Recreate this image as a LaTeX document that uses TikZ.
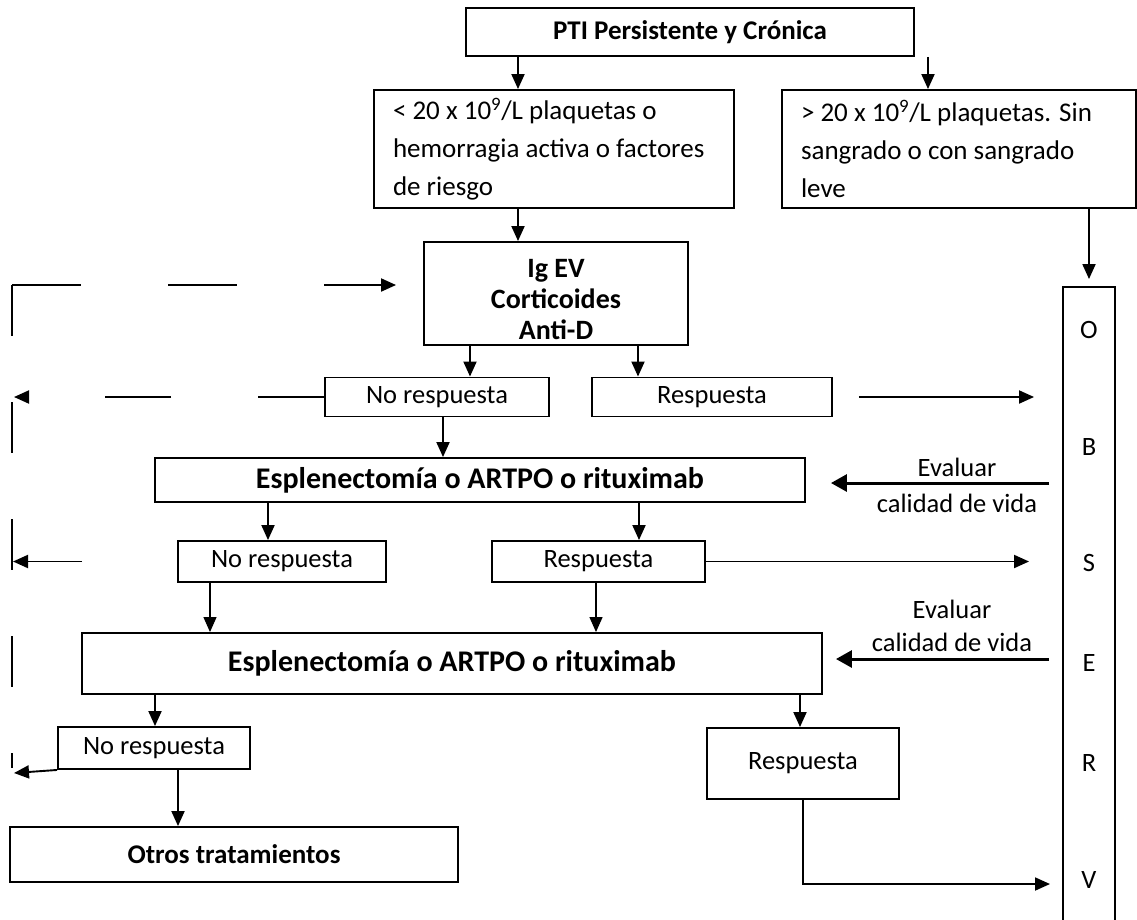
\documentclass[tikz,border=0pt]{standalone}
\usepackage{fontspec}
\setmainfont{Carlito}
\usetikzlibrary{arrows.meta,calc}

\begin{document}
\begin{tikzpicture}[x=1pt,y=-1pt,
  box/.style={draw, line width=1.9pt, inner sep=0pt, align=center,
              font=\fontsize{26.5}{32}\selectfont},
  boldbox/.style={box, font=\fontsize{27}{32}\selectfont\bfseries},
  igbox/.style={box, font=\fontsize{28}{31}\selectfont\bfseries},
  bigbox/.style={box, font=\fontsize{30}{36}\selectfont\bfseries},
  leftbox/.style={box, align=flush left, inner xsep=19pt, text width=#1,
                  font=\fontsize{27}{38}\selectfont},
  lbl/.style={font=\fontsize{26.5}{32}\selectfont, inner sep=0pt},
  arr/.style={line width=1.9pt, -{Triangle[length=15pt,width=13pt]}},
  thinarr/.style={line width=1.2pt, -{Triangle[length=15pt,width=13pt]}},
  evalarr/.style={line width=3pt, -{Triangle[length=16pt,width=17pt]}}
]
\useasboundingbox (0,0) rectangle (1137,919);

% boxes
\node[boldbox, minimum width=448, minimum height=48] (pti) at (690,32) {PTI Persistente y Crónica};
\node[leftbox=322pt, minimum width=360, minimum height=118] (lft) at (554,149)
  {< 20 x 10\textsuperscript{9}/L plaquetas o\\hemorragia activa o factores\\de riesgo};
\node[leftbox=316pt, minimum width=354, minimum height=118] (rgt) at (959,149)
  {> 20 x 10\textsuperscript{9}/L plaquetas. Sin\\sangrado o con sangrado\\leve};
\node[igbox, minimum width=264, minimum height=103] (ig) at (556,293.5)
  {\rule{0pt}{30pt}Ig EV\\Corticoides\\Anti-D};
\node[box, minimum width=224, minimum height=39] (nr1) at (437,397) {No respuesta};
\node[box, minimum width=240, minimum height=39] (r1) at (712,397) {Respuesta};
\node[bigbox, minimum width=650, minimum height=44] (e1) at (480,480) {Esplenectomía o ARTPO o rituximab};
\node[box, minimum width=208, minimum height=41] (nr2) at (282,561.5) {No respuesta};
\node[box, minimum width=213, minimum height=41] (r2) at (598.5,561.5) {Respuesta};
\node[bigbox, minimum width=740, minimum height=61] (e2) at (452,663.5) {Esplenectomía o ARTPO o rituximab};
\node[box, minimum width=192, minimum height=42] (nr3) at (154,748) {No respuesta};
\node[box, minimum width=192, minimum height=71] (r3) at (803,763.5) {Respuesta};
\node[boldbox, minimum width=448, minimum height=55] (ot) at (234,854.5) {Otros tratamientos};
\node[draw, line width=1.9pt, minimum width=52, minimum height=650, inner sep=0pt] (obs) at (1089,612) {};

% letters of the observation column
\node[lbl] (o1) at (1089,330) {O};
\node[lbl] (o2) at (1089,447) {B};
\node[lbl] (o3) at (1089,563) {S};
\node[lbl] (o4) at (1089,663) {E};
\node[lbl] (o5) at (1089,763) {R};
\node[lbl] (o6) at (1089,880) {V};

% quality-of-life labels
\node[lbl] (ev1) at (957,467) {Evaluar};
\node[lbl] (cv1) at (957,503) {calidad de vida};
\node[lbl] (ev2) at (952,609) {Evaluar};
\node[lbl] (cv2) at (952,642) {calidad de vida};

% free ends
\coordinate (lc) at (12,285);
\coordinate (lvend) at (12,768);
\coordinate (nrend) at (14,773);
\coordinate (obsv) at (1050,884);

% main flow
\draw[arr] (518,0 |- pti.south) -- (518,0 |- lft.north);
\draw[arr] (928,0 |- pti.south) -- (928,0 |- rgt.north);
\draw[arr] (518,0 |- lft.south) -- (518,0 |- ig.north);
\draw[arr, shorten >=7pt] (obs.north |- rgt.south) -- (obs.north);
\draw[arr] (470,0 |- ig.south) -- (470,0 |- nr1.north);
\draw[arr] (638,0 |- ig.south) -- (638,0 |- r1.north);
\draw[arr, shorten <=26pt, shorten >=28pt] (r1.east) -- (r1.east -| obs.west);
\draw[arr] (443,0 |- nr1.south) -- (443,0 |- e1.north);
\draw[arr] (268,0 |- e1.south) -- (268,0 |- nr2.north);
\draw[arr] (639,0 |- e1.south) -- (639,0 |- r2.north);
\draw[arr, shorten >=33pt] (r2.east) -- (r2.east -| obs.west);
\draw[thinarr] (210,0 |- nr2.south) -- (210,0 |- e2.north);
\draw[thinarr] (596,0 |- r2.south) -- (596,0 |- e2.north);
\draw[arr] (155,0 |- e2.south) -- (155,0 |- nr3.north);
\draw[arr] (800,0 |- e2.south) -- (800,0 |- r3.north);
\draw[arr] (178,0 |- nr3.south) -- (178,0 |- ot.north);
\draw[arr] (nr3.south west) -- (nrend);
\draw[arr] (r3.south) |- (obsv);

% quality-of-life feedback
\draw[evalarr, shorten <=13pt, shorten >=25pt] (obs.west |- 0,483) -- (e1.east |- 0,483);
\draw[evalarr, shorten <=13pt, shorten >=13pt] (obs.west |- 0,659) -- (e2.east |- 0,659);

% dashed return paths
\draw[arr, dash pattern=on 69pt off 87pt, shorten >=27pt] (lc) -- (lc -| ig.west);
\draw[line width=1.9pt, dash pattern=on 51pt off 66pt] (lc) -- (lvend);
\draw[arr, dash pattern=on 66pt off 87pt, shorten >=2pt] (nr1.west) -- (nr1.west -| lc);
\draw[arr, dash pattern=on 0pt off 95pt on 100pt, shorten >=1pt] (nr2.west) -- (nr2.west -| lc);
\end{tikzpicture}
\end{document}
